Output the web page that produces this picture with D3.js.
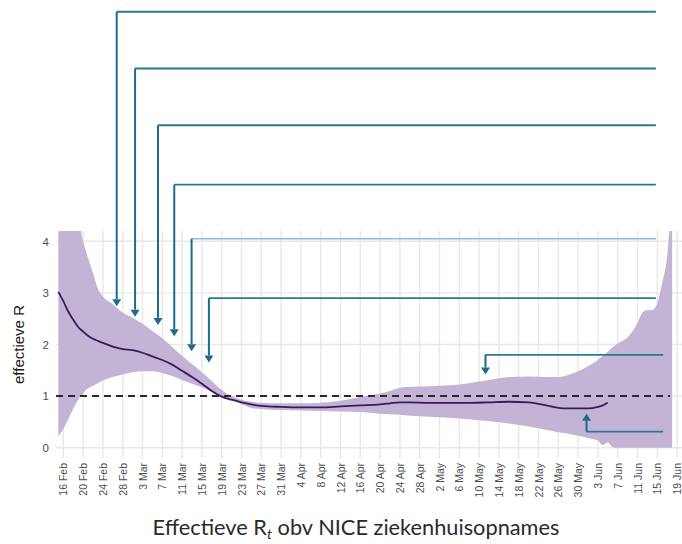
<!DOCTYPE html>
<html>
<head>
<meta charset="utf-8">
<script src="https://cdn.jsdelivr.net/npm/d3@7"></script>
<style>
  html, body { margin: 0; padding: 0; background: #ffffff; }
  svg { display: block; }
</style>
</head>
<body>
<svg id="chart" width="682" height="544"></svg>
<script>
// ---------------- DATA ----------------
const dates = [
  "2020-02-15","2020-02-16","2020-02-17","2020-02-18","2020-02-19","2020-02-20","2020-02-21","2020-02-22","2020-02-23","2020-02-24",
  "2020-02-26","2020-02-28","2020-03-01","2020-03-03","2020-03-05","2020-03-07","2020-03-09","2020-03-11","2020-03-13","2020-03-15",
  "2020-03-17","2020-03-19","2020-03-21","2020-03-23","2020-03-25","2020-03-27","2020-03-31","2020-04-04","2020-04-08","2020-04-12",
  "2020-04-16","2020-04-20","2020-04-22","2020-04-24","2020-04-26","2020-04-30","2020-05-04","2020-05-08","2020-05-12","2020-05-16",
  "2020-05-20","2020-05-24","2020-05-26","2020-05-28","2020-05-30","2020-06-01","2020-06-03","2020-06-04","2020-06-05","2020-06-06",
  "2020-06-07","2020-06-09","2020-06-10","2020-06-11","2020-06-12","2020-06-13","2020-06-14","2020-06-15","2020-06-16","2020-06-17",
  "2020-06-18"
];
const rUpper = [
  5.0,5.0,4.9,4.7,4.45,4.0,3.68,3.38,3.08,2.93,
  2.78,2.62,2.52,2.40,2.26,2.12,1.95,1.78,1.62,1.46,
  1.29,1.12,1.00,0.93,0.89,0.87,0.86,0.86,0.87,0.91,
  0.98,1.05,1.10,1.16,1.18,1.19,1.21,1.25,1.31,1.37,
  1.38,1.37,1.37,1.41,1.48,1.58,1.70,1.78,1.86,1.95,
  2.02,2.14,2.26,2.42,2.62,2.67,2.67,2.80,3.20,3.72,
  5.0
];
const rLower = [
  0.22,0.36,0.55,0.75,0.93,1.05,1.15,1.20,1.25,1.30,
  1.37,1.42,1.46,1.48,1.48,1.45,1.39,1.31,1.24,1.17,
  1.08,1.00,0.93,0.84,0.77,0.75,0.73,0.72,0.71,0.70,
  0.69,0.66,0.65,0.64,0.62,0.60,0.58,0.55,0.51,0.47,
  0.41,0.34,0.30,0.27,0.23,0.19,0.14,0.05,0.10,0.01,
  0,0,0,0,0,0,0,0,0,0,
  0
];
const rMid = [
  3.02,2.84,2.64,2.48,2.34,2.25,2.17,2.11,2.07,2.03,
  1.96,1.91,1.89,1.84,1.77,1.70,1.61,1.49,1.37,1.24,
  1.10,0.99,0.93,0.88,0.84,0.81,0.79,0.78,0.78,0.80,
  0.82,0.84,0.86,0.88,0.88,0.87,0.87,0.87,0.88,0.89,
  0.88,0.81,0.77,0.76,0.76,0.76,0.79,0.82,0.87,null,
  null,null,null,null,null,null,null,null,null,null,
  null
];
const tickDates = [
  "2020-02-16","2020-02-20","2020-02-24","2020-02-28","2020-03-03","2020-03-07","2020-03-11","2020-03-15",
  "2020-03-19","2020-03-23","2020-03-27","2020-03-31","2020-04-04","2020-04-08","2020-04-12","2020-04-16",
  "2020-04-20","2020-04-24","2020-04-28","2020-05-02","2020-05-06","2020-05-10","2020-05-14","2020-05-18",
  "2020-05-22","2020-05-26","2020-05-30","2020-06-03","2020-06-07","2020-06-11","2020-06-15","2020-06-19"
];
const yTicks = [0, 1, 2, 3, 4];
const threshold = 1;

// annotation arrows (data coordinates): vertical at date, from level topR to tipR, horizontal to endDate
const arrowDates = ["2020-02-26T19:00","2020-03-01T12:00","2020-03-06T03:00","2020-03-09T10:00","2020-03-12T22:00","2020-03-16T10:00","2020-05-11T07:00","2020-05-31T17:00"];
const arrowTopR  = [8.45, 7.35, 6.25, 5.10, 4.05, 2.90, 1.80, 0.31];
const arrowTipR  = [2.74, 2.54, 2.38, 2.16, 1.87, 1.65, 1.42, 0.66];
const arrowEnd   = ["2020-06-14T17:00","2020-06-14T17:00","2020-06-14T17:00","2020-06-14T17:00","2020-06-14T17:00","2020-06-14T17:00","2020-06-16T05:00","2020-06-16T05:00"];

const yTitle = "effectieve R";
const titleMain = "Effectieve R";
const titleSub = "t";
const titleRest = " obv NICE ziekenhuisopnames";

// ---------------- LAYOUT ----------------
const parseD = d3.utcParse("%Y-%m-%d");
const parseDT = d3.utcParse("%Y-%m-%dT%H:%M");
const svg = d3.select("#chart");
const panel = {left: 56, right: 682, top: 231, bottom: 458};

const x = d3.scaleUtc()
  .domain([parseD("2020-02-16"), parseD("2020-06-19")])
  .range([63.3, 677.1]);
const y = d3.scaleLinear().domain([-0.2, 4.2]).range([panel.bottom, panel.top]);

const data = dates.map((d, i) => ({date: parseD(d), lo: rLower[i], hi: rUpper[i], mid: rMid[i]}));

svg.append("defs").append("clipPath").attr("id", "clip")
  .append("rect")
  .attr("x", panel.left).attr("y", panel.top)
  .attr("width", panel.right - panel.left).attr("height", panel.bottom - panel.top);

// grid
const grid = svg.append("g");
grid.selectAll("line.h").data(yTicks).join("line")
  .attr("x1", panel.left).attr("x2", panel.right)
  .attr("y1", d => y(d)).attr("y2", d => y(d))
  .attr("stroke", "#e8e8e8").attr("stroke-width", 1.4);
grid.selectAll("line.v").data(tickDates).join("line")
  .attr("x1", d => x(parseD(d))).attr("x2", d => x(parseD(d)))
  .attr("y1", panel.top).attr("y2", panel.bottom)
  .attr("stroke", "#e8e8e8").attr("stroke-width", 1.4);

const plot = svg.append("g").attr("clip-path", "url(#clip)");

// band
plot.append("path").datum(data)
  .attr("d", d3.area().x(d => x(d.date)).y0(d => y(d.lo)).y1(d => y(d.hi)).curve(d3.curveMonotoneX))
  .attr("fill", "#c3b4d6");

// threshold
svg.append("line")
  .attr("x1", panel.left).attr("x2", 670)
  .attr("y1", y(threshold)).attr("y2", y(threshold))
  .attr("stroke", "#2b2b2b").attr("stroke-width", 2)
  .attr("stroke-dasharray", "7,5");

// mid line
plot.append("path").datum(data)
  .attr("d", d3.line().defined(d => d.mid != null).x(d => x(d.date)).y(d => y(d.mid)).curve(d3.curveMonotoneX))
  .attr("fill", "none").attr("stroke", "#3a1a5c").attr("stroke-width", 1.8);

// y axis
const yAxis = svg.append("g").attr("transform", `translate(${panel.left},0)`)
  .call(d3.axisLeft(y).tickValues(yTicks).tickFormat(d3.format("d")).tickSize(0).tickPadding(7));
yAxis.select(".domain").remove();
yAxis.selectAll("text").attr("font-family", "Liberation Sans, Arial, sans-serif")
  .attr("font-size", 11.5).attr("fill", "#4d4d4d");

// x axis
const xAxis = svg.append("g").attr("transform", `translate(0,${panel.bottom})`)
  .call(d3.axisBottom(x).tickValues(tickDates.map(parseD)).tickFormat(d3.utcFormat("%-d %b")).tickSize(0));
xAxis.select(".domain").remove();
xAxis.selectAll("text")
  .attr("transform", "rotate(-90)")
  .attr("text-anchor", "end")
  .attr("x", -5).attr("y", 0).attr("dy", "0.35em")
  .attr("font-family", "Liberation Sans, Arial, sans-serif")
  .attr("font-size", 10.5).attr("fill", "#4d4d4d");

// y title
svg.append("text")
  .attr("transform", `translate(19,${(panel.top + panel.bottom) / 2}) rotate(-90)`)
  .attr("text-anchor", "middle").attr("dy", "0.35em")
  .attr("font-family", "Liberation Sans, Arial, sans-serif")
  .attr("font-size", 15).attr("fill", "#1a1a1a")
  .text(yTitle);

// arrows
const arrowG = svg.append("g");
arrowDates.forEach((ad, i) => {
  const ax = x(parseDT(ad));
  const ex = x(parseDT(arrowEnd[i]));
  const ty = y(arrowTopR[i]);
  const tipY = y(arrowTipR[i]);
  const dir = tipY > ty ? 1 : -1;
  const headLen = 7, headW = 4.5;
  const light = i === 4;
  arrowG.append("line")
    .attr("x1", ax).attr("x2", ex).attr("y1", ty).attr("y2", ty)
    .attr("stroke", light ? "#86c3d8" : "#2a7a8e").attr("stroke-width", light ? 1.4 : 1.8);
  arrowG.append("line")
    .attr("x1", ax).attr("x2", ax).attr("y1", ty).attr("y2", tipY - dir * headLen)
    .attr("stroke", "#1d6a90").attr("stroke-width", 2);
  arrowG.append("path")
    .attr("d", `M${ax - headW},${tipY - dir * headLen} L${ax + headW},${tipY - dir * headLen} L${ax},${tipY} Z`)
    .attr("fill", "#1d6a90");
});

// title
const title = svg.append("text")
  .attr("x", 356).attr("y", 535)
  .attr("text-anchor", "middle")
  .attr("font-family", "Lato, 'Open Sans', sans-serif")
  .attr("font-size", 20).attr("fill", "#2a2a2a");
title.append("tspan").text(titleMain);
title.append("tspan").attr("font-style", "italic").attr("font-size", 13).attr("dy", 4).text(titleSub);
title.append("tspan").attr("dy", -4).text(titleRest);
// fit title width to reference extent
const targetW = 407;
const w0 = title.node().getComputedTextLength();
const fs = 20 * targetW / w0;
title.attr("font-size", fs);
title.select("tspan:nth-child(2)").attr("font-size", fs * 0.65);
</script>
</body>
</html>
